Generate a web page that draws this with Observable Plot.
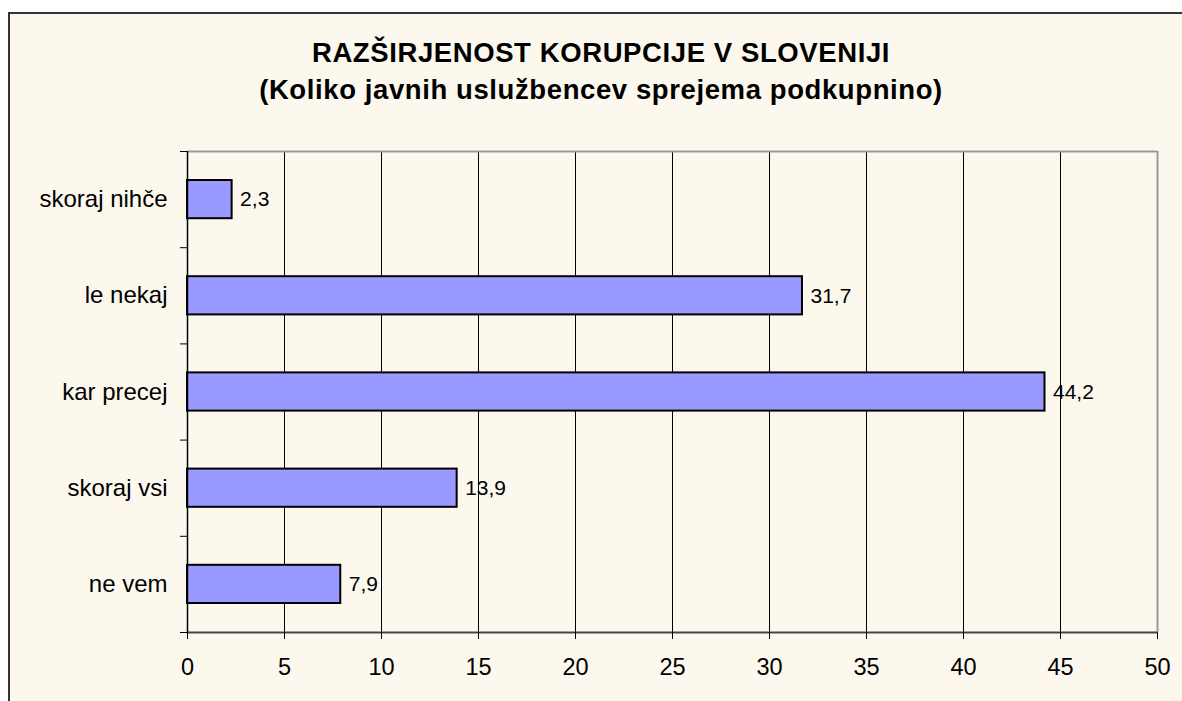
<!DOCTYPE html>
<html>
<head>
<meta charset="utf-8">
<script src="https://cdn.jsdelivr.net/npm/d3@7"></script>
<script src="https://cdn.jsdelivr.net/npm/@observablehq/plot@0.6"></script>
<style>
  html, body { margin: 0; padding: 0; background: #ffffff; overflow: hidden; }
  #frame {
    position: absolute; left: 8px; top: 12px;
    width: 1186px; height: 700px; box-sizing: border-box;
    border: 2px solid #333333; background: #FCF8EE;
    font-family: Arial, "Liberation Sans", sans-serif;
  }
  #title {
    position: absolute; left: 0; top: 20px; width: 1182px;
    text-align: center; font-weight: bold; font-size: 27.5px;
    line-height: 37px; letter-spacing: 0.6px; color: #000;
  }
  #chart { position: absolute; left: 0; top: 120px; }
  #chart svg { overflow: visible; }
</style>
</head>
<body>
<div id="frame">
  <div id="title">RAZŠIRJENOST KORUPCIJE V SLOVENIJI<br>(Koliko javnih uslužbencev sprejema podkupnino)</div>
  <div id="chart"></div>
</div>
<script>
const categories = ["skoraj nihče", "le nekaj", "kar precej", "skoraj vsi", "ne vem"];
const values = [2.3, 31.7, 44.2, 13.9, 7.9];
const xTicks = [0, 5, 10, 15, 20, 25, 30, 35, 40, 45, 50];

const data = categories.map((c, i) => ({category: c, index: i, value: values[i]}));
const fmt = v => v.toFixed(1).replace(".", ",");
const n = categories.length;

const chart = Plot.plot({
  width: 1182,
  height: 548,
  marginLeft: 177,
  marginRight: 35,
  marginTop: 17,
  marginBottom: 50,
  style: {background: "transparent", fontFamily: "Arial, 'Liberation Sans', sans-serif", fontSize: "23px", color: "#000"},
  x: {domain: [0, 50]},
  y: {domain: [0, n], reverse: true},
  marks: [
    Plot.gridX(xTicks.filter(t => t > 0 && t < 50), {stroke: "#000", strokeOpacity: 1, strokeWidth: 1}),
    Plot.ruleY([0], {stroke: "#999999", strokeWidth: 2}),
    Plot.ruleX([50], {stroke: "#999999", strokeWidth: 2}),
    Plot.rect(data, {
      x1: 0, x2: "value",
      y1: d => d.index, y2: d => d.index + 1,
      insetTop: 29, insetBottom: 29,
      fill: "#9999FF", stroke: "#000", strokeWidth: 2
    }),
    Plot.text(data, {
      x: "value", y: d => d.index + 0.5, text: d => fmt(d.value),
      dx: 8, textAnchor: "start", fontSize: 21, fill: "#000"
    }),
    Plot.ruleY([n], {stroke: "#444444", strokeWidth: 2}),
    Plot.ruleX([0], {stroke: "#000", strokeWidth: 1.5}),
    Plot.axisY(d3.range(0, n + 1), {tickSize: 7, tickFormat: () => "", stroke: "#000"}),
    Plot.axisY(categories.map((c, i) => i + 0.5), {
      tickSize: 0, tickPadding: 20, tickFormat: v => categories[Math.floor(v)],
      fontSize: 24
    }),
    Plot.axisX(xTicks, {tickSize: 7, tickPadding: 19, fontSize: 23.5, stroke: "#000", label: null})
  ]
});
document.getElementById("chart").appendChild(chart);
</script>
</body>
</html>
